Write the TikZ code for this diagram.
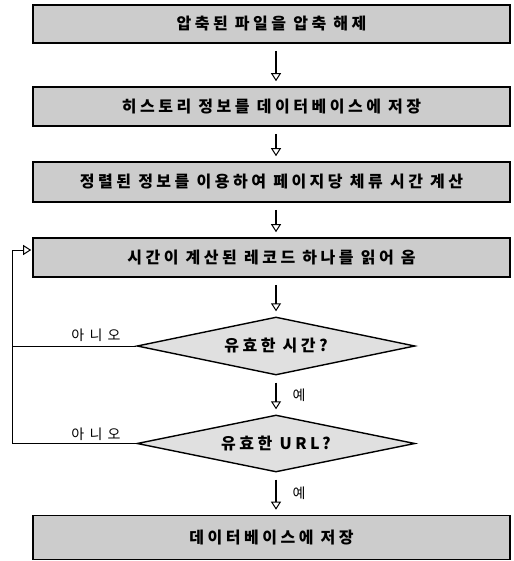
\documentclass[tikz,border=0pt]{standalone}
\usepackage{fontspec}
\setmainfont{Noto Sans CJK KR}
\newfontfamily\kls[LetterSpace=22]{Noto Sans CJK KR}
\newfontfamily\klab[LetterSpace=15]{Noto Sans CJK KR}
\usetikzlibrary{arrows.meta,shapes.geometric,calc}
\begin{document}
\begin{tikzpicture}[x=1pt,y=-1pt,
  pbox/.style={draw, line width=1.6pt, fill=black!20, minimum width=477pt,
    inner sep=0pt, font=\kls\bfseries\fontsize{16pt}{18pt}\selectfont},
  decis/.style={draw, line width=1.4pt, fill=black!12, diamond, aspect=4.8,
    minimum width=278pt, inner sep=0pt, font=\kls\bfseries\fontsize{16pt}{18pt}\selectfont},
  arr/.style={line width=1.4pt, -{Triangle[open, length=8pt, width=10pt, line width=1pt]},
    shorten <=7pt, shorten >=5pt},
  lbl/.style={inner sep=0pt, font=\klab\fontsize{14pt}{16pt}\selectfont},
  thinline/.style={line width=1pt}]
\useasboundingbox (0,0) rectangle (513,561);
\node[pbox, minimum height=38pt] (b1) at (271.5,24) {압축된 파일을 압축 해제};
\node[pbox, minimum height=39pt] (b2) at (271.5,106.5) {히스토리 정보를 데이터베이스에 저장};
\node[pbox, minimum height=40pt] (b3) at (271.5,182) {정렬된 정보를 이용하여 페이지당 체류 시간 계산};
\node[pbox, minimum height=39pt] (b4) at (271.5,257.5) {시간이 계산된 레코드 하나를 읽어 옴};
\node[decis, minimum height=58pt] (d1) at (276,346) {유효한 시간?};
\node[decis, minimum height=57pt] (d2) at (276,443.5) {유효한 URL?};
\node[pbox, minimum height=44pt] (b5) at (271.5,537.5) {데이터베이스에 저장};
\draw[arr] (b1.south -| d1.north) -- (b2.north -| d1.north);
\draw[arr] (b2.south -| d1.north) -- (b3.north -| d1.north);
\draw[arr] (b3.south -| d1.north) -- (b4.north -| d1.north);
\draw[arr] (b4.south -| d1.north) -- (d1.north);
\draw[arr] (d1.south) -- (d2.north);
\draw[arr] (d2.south) -- (b5.north -| d2.south);
\coordinate (loopbot) at (12,443.5);
\coordinate (looptop) at (12,250);
\draw[thinline, -{Triangle[open, length=8pt, width=10pt, line width=1pt]}, shorten >=1pt]
  (d2.west) -- (loopbot) -- (looptop) -- (looptop -| b4.west);
\draw[thinline] (d1.west) -- (d1.west -| loopbot);
\node[lbl] (n1) at (96,335) {아 니 오};
\node[lbl] (n2) at (96,434) {아 니 오};
\node[lbl] (y1) at (299,395) {예};
\node[lbl] (y2) at (299,493) {예};
\end{tikzpicture}
\end{document}
